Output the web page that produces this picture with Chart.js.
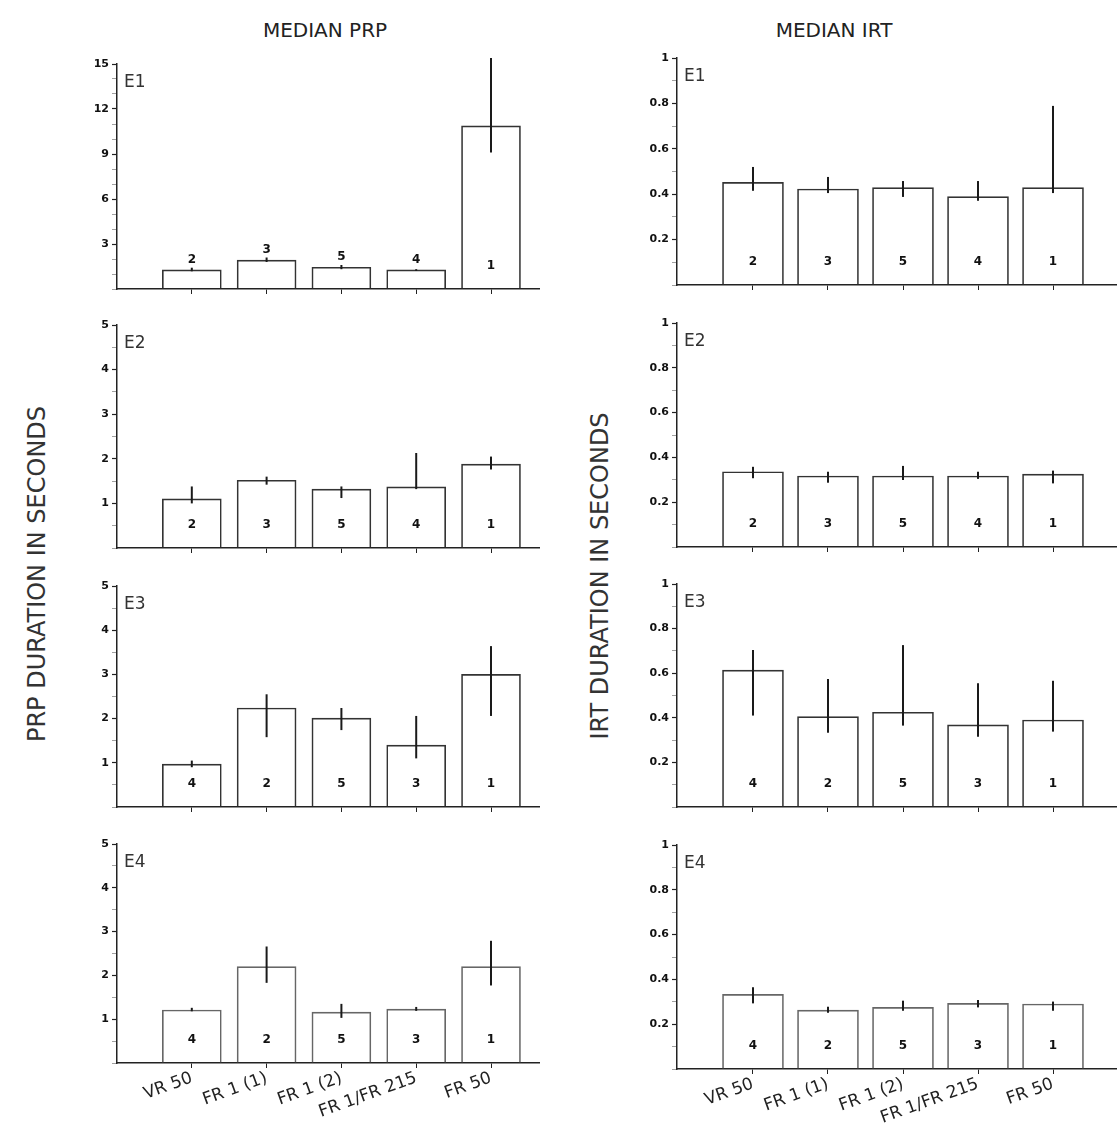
<!DOCTYPE html>
<html>
<head>
<meta charset="utf-8">
<script src="https://cdn.jsdelivr.net/npm/chart.js@4"></script>
<style>
    body { margin: 0; background: #fff; }
    #page { position: relative; width: 1117px; height: 1125px; overflow: hidden; font-family: "DejaVu Sans", sans-serif; color: #222; }
    #page canvas { position: absolute; }
    .head { position: absolute; font-size: 20px; transform: translate(-50%, -50%); white-space: nowrap; }
    .side { position: absolute; font-size: 24px; color: #333; white-space: nowrap; transform: translate(-50%, -50%) rotate(-90deg); }
</style>
</head>
<body>
<div id="page">
    <div class="head" style="left:325px; top:30px;">MEDIAN PRP</div>
    <div class="head" style="left:834px; top:30px;">MEDIAN IRT</div>
    <div class="side" style="left:37px; top:574px;">PRP DURATION IN SECONDS</div>
    <div class="side" style="left:600px; top:576px;">IRT DURATION IN SECONDS</div>
</div>
<script>
const categories = ['VR 50', 'FR 1 (1)', 'FR 1 (2)', 'FR 1/FR 215', 'FR 50'];
const groupsE12 = ['2', '3', '5', '4', '1'];
const groupsE34 = ['4', '2', '5', '3', '1'];

const prpE1Ticks = [3, 6, 9, 12, 15];
const prpTicks = [1, 2, 3, 4, 5];
const irtTicks = [0.2, 0.4, 0.6, 0.8, 1];

// median PRP (s) with error bar ends
const prpE1 = [1.27, 1.93, 1.45, 1.27, 10.87];
const prpE1Low = [1.18, 1.8, 1.32, 1.2, 9.1];
const prpE1High = [1.42, 2.1, 1.6, 1.32, 15.4];
const prpE2 = [1.1, 1.52, 1.32, 1.37, 1.88];
const prpE2Low = [1.0, 1.42, 1.12, 1.32, 1.76];
const prpE2High = [1.38, 1.6, 1.38, 2.13, 2.05];
const prpE3 = [0.97, 2.24, 2.01, 1.4, 3.0];
const prpE3Low = [0.9, 1.58, 1.74, 1.1, 2.06];
const prpE3High = [1.05, 2.55, 2.24, 2.06, 3.64];
const prpE4 = [1.21, 2.2, 1.16, 1.23, 2.2];
const prpE4Low = [1.18, 1.83, 1.03, 1.19, 1.77];
const prpE4High = [1.26, 2.66, 1.35, 1.28, 2.79];

// median IRT (s)
const irtE1 = [0.452, 0.423, 0.429, 0.389, 0.429];
const irtE1Low = [0.415, 0.405, 0.388, 0.371, 0.405];
const irtE1High = [0.52, 0.476, 0.458, 0.458, 0.789];
const irtE2 = [0.336, 0.317, 0.317, 0.317, 0.325];
const irtE2Low = [0.307, 0.287, 0.299, 0.304, 0.284];
const irtE2High = [0.358, 0.336, 0.362, 0.336, 0.341];
const irtE3 = [0.614, 0.405, 0.425, 0.368, 0.39];
const irtE3Low = [0.41, 0.333, 0.365, 0.315, 0.338];
const irtE3High = [0.704, 0.574, 0.726, 0.555, 0.566];
const irtE4 = [0.333, 0.263, 0.275, 0.293, 0.29];
const irtE4Low = [0.293, 0.251, 0.26, 0.275, 0.26];
const irtE4High = [0.365, 0.278, 0.305, 0.308, 0.301];

// error bars, group numbers and the E tag
const panelDecor = {
    id: 'panelDecor',
    afterDatasetsDraw(chart, args, opts) {
        const ctx = chart.ctx;
        const xs = chart.scales.x, ys = chart.scales.y;
        const meta = chart.getDatasetMeta(0);
        ctx.save();
        ctx.strokeStyle = '#1a1a1a';
        ctx.lineWidth = 2;
        opts.low.forEach((lo, i) => {
            const x = xs.getPixelForValue(i);
            ctx.beginPath();
            ctx.moveTo(x, ys.getPixelForValue(lo));
            ctx.lineTo(x, ys.getPixelForValue(opts.high[i]));
            ctx.stroke();
        });
        ctx.fillStyle = '#111';
        ctx.font = 'bold 12px "DejaVu Sans"';
        ctx.textAlign = 'center';
        ctx.textBaseline = 'middle';
        meta.data.forEach((bar, i) => {
            const short = bar.base - bar.y < 40;
            ctx.fillText(opts.groups[i], bar.x, short ? bar.y - 10 : bar.base - 23);
        });
        ctx.font = '17px "DejaVu Sans"';
        ctx.fillStyle = '#333';
        ctx.textAlign = 'left';
        ctx.fillText(opts.tag, chart.chartArea.left + 7, chart.chartArea.top + 19);
        ctx.restore();
    }
};

function makePanel(p) {
    const bottomRow = !!p.bottomRow;
    const xh = bottomRow ? 62 : 12;
    const canvas = document.createElement('canvas');
    const left = p.axisX - 57;
    const top = p.top - 10;
    canvas.width = p.right - left;
    canvas.height = p.base - top + xh;
    canvas.style.left = left + 'px';
    canvas.style.top = top + 'px';
    document.getElementById('page').appendChild(canvas);

    const isMajor = v => p.ticks.some(t => Math.abs(t - v) < 1e-6);

    new Chart(canvas, {
        type: 'bar',
        data: {
            datasets: [{
                data: p.values.map((v, i) => ({ x: i, y: v })),
                backgroundColor: 'rgba(255,255,255,0)',
                borderColor: bottomRow ? '#666' : '#333',
                borderWidth: 1,
                barThickness: p.barWidth
            }]
        },
        options: {
            responsive: false,
            animation: false,
            devicePixelRatio: 1,
            layout: { padding: { top: 10, left: 0, right: 0, bottom: 0 } },
            plugins: {
                legend: { display: false },
                tooltip: { enabled: false },
                panelDecor: { low: p.low, high: p.high, groups: p.groups, tag: p.tag }
            },
            scales: {
                x: {
                    type: 'linear',
                    offset: false,
                    min: p.xMin,
                    max: p.xMax,
                    afterBuildTicks: s => { s.ticks = categories.map((c, i) => ({ value: i })); },
                    afterFit: s => { s.height = xh; },
                    ticks: {
                        display: bottomRow,
                        autoSkip: false,
                        minRotation: 20,
                        maxRotation: 20,
                        padding: 0,
                        color: '#222',
                        font: { family: 'DejaVu Sans', size: 17 },
                        callback: v => categories[v]
                    },
                    grid: { offset: false, drawOnChartArea: false, tickLength: 5, tickColor: '#222' },
                    border: { color: '#222', width: 1.5 }
                },
                y: {
                    min: 0,
                    max: p.yMax,
                    afterFit: s => { s.width = 57; },
                    ticks: {
                        stepSize: p.minor,
                        autoSkip: false,
                        padding: 3,
                        color: '#111',
                        font: { family: 'DejaVu Sans', size: 11, weight: 'bold' },
                        callback: v => (v > 0 && isMajor(v)) ? String(Math.round(v * 10) / 10) : ''
                    },
                    grid: {
                        drawOnChartArea: false,
                        tickLength: 5,
                        tickColor: c => (c.tick && isMajor(c.tick.value)) ? '#222' : '#888',
                        tickWidth: c => (c.tick && isMajor(c.tick.value)) ? 1.2 : 0.8
                    },
                    border: { color: '#222', width: 1.5 }
                }
            }
        },
        plugins: [panelDecor]
    });
}

const leftCol = { axisX: 117, right: 540, xMin: -1.0, xMax: 4.655, barWidth: 59 };
const rightCol = { axisX: 677, right: 1117, xMin: -1.013, xMax: 4.853, barWidth: 61 };

const panels = [
    { ...leftCol, top: 64, base: 289, yMax: 15, minor: 1, ticks: prpE1Ticks, tag: 'E1', groups: groupsE12, values: prpE1, low: prpE1Low, high: prpE1High },
    { ...leftCol, top: 325, base: 548, yMax: 5, minor: 0.5, ticks: prpTicks, tag: 'E2', groups: groupsE12, values: prpE2, low: prpE2Low, high: prpE2High },
    { ...leftCol, top: 586, base: 807, yMax: 5, minor: 0.5, ticks: prpTicks, tag: 'E3', groups: groupsE34, values: prpE3, low: prpE3Low, high: prpE3High },
    { ...leftCol, top: 844, base: 1063, yMax: 5, minor: 0.5, ticks: prpTicks, tag: 'E4', groups: groupsE34, values: prpE4, low: prpE4Low, high: prpE4High, bottomRow: true },
    { ...rightCol, top: 58, base: 285, yMax: 1, minor: 0.1, ticks: irtTicks, tag: 'E1', groups: groupsE12, values: irtE1, low: irtE1Low, high: irtE1High },
    { ...rightCol, top: 323, base: 547, yMax: 1, minor: 0.1, ticks: irtTicks, tag: 'E2', groups: groupsE12, values: irtE2, low: irtE2Low, high: irtE2High },
    { ...rightCol, top: 584, base: 807, yMax: 1, minor: 0.1, ticks: irtTicks, tag: 'E3', groups: groupsE34, values: irtE3, low: irtE3Low, high: irtE3High },
    { ...rightCol, top: 845, base: 1069, yMax: 1, minor: 0.1, ticks: irtTicks, tag: 'E4', groups: groupsE34, values: irtE4, low: irtE4Low, high: irtE4High, bottomRow: true }
];

panels.forEach(makePanel);
</script>
</body>
</html>
